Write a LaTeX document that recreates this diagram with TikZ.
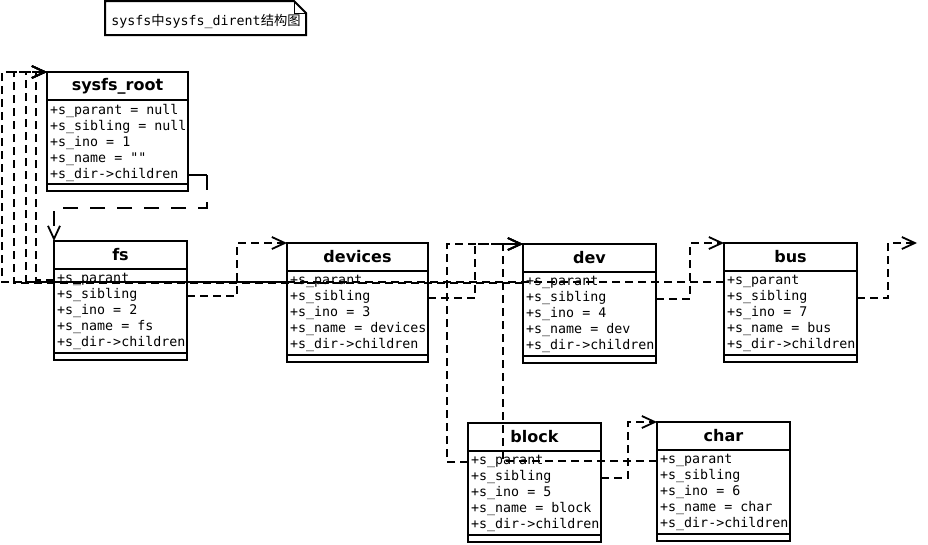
\documentclass[tikz,border=0pt]{standalone}
\usepackage{fontspec}
\setmainfont{DejaVu Sans}
\setmonofont{DejaVu Sans Mono}
\newfontfamily\cjk{Noto Sans CJK SC}
\usepackage{tikz}
\usetikzlibrary{positioning}
\usetikzlibrary{calc}
\usetikzlibrary{arrows.meta}

\newcommand{\headfont}{\fontsize{16}{19}\selectfont\bfseries}
\newcommand{\attrfont}{\fontsize{13.3}{16}\selectfont\ttfamily}

\tikzset{
    classhead/.style={draw, line width=2pt, fill=white, inner sep=0pt, outer sep=0pt,
        minimum height=28, font=\headfont, anchor=north west},
    classbody/.style={draw, line width=2pt, fill=white, inner sep=0pt, outer sep=0pt,
        minimum height=84},
    classfoot/.style={draw, line width=2pt, fill=white, inner sep=0pt, outer sep=0pt,
        minimum height=7},
    attrs/.style={anchor=north west, align=left, inner xsep=3pt, inner ysep=0pt,
        font=\attrfont, execute at begin node=\strut},
    link/.style={line width=1.8pt, dash pattern=on 8pt off 5pt},
    longlink/.style={line width=1.8pt, dash pattern=on 15pt off 12pt},
    openhead/.style={-{Straight Barb[length=13pt,width=12pt]}}
}

% name, x, y (top left), width, title, attributes
\newcommand{\umlclass}[6]{%
    \node[classhead, minimum width=#4] (#1) at (#2,#3) {#5};
    \node[classbody, minimum width=#4, below=0pt of #1] (#1-body) {};
    \node[classfoot, minimum width=#4, below=0pt of #1-body] (#1-foot) {};
    \node[attrs] (#1-attrs) at ($(#1-body.north west)+(0,3.8)$) {#6};
    \coordinate (#1-par) at ($(#1-body.north west)+(0,11)$);
    \coordinate (#1-sib) at ($(#1-body.north east)+(0,27)$);
    \coordinate (#1-chi) at ($(#1-body.north east)+(0,75)$);
}

\begin{document}
\begin{tikzpicture}[x=1pt, y=-1pt]
    \useasboundingbox (0,0) rectangle (928,544);

    % note
    \node[font=\attrfont, inner sep=0pt] (title) at (206,21)
        {sysfs{\cjk 中}sysfs\_dirent{\cjk 结构图}};
    \draw[line width=2pt] (105,1) -- (294,1) -- (306,13) -- (306,35) -- (105,35) -- cycle;
    \draw[line width=0.8pt] (294,1) -- (294,13) -- (306,13);

    \umlclass{root}{47}{72}{141}{sysfs\_root}
        {+s\_parant = null\\+s\_sibling = null\\+s\_ino = 1\\+s\_name = ""\\+s\_dir->children}
    \umlclass{fs}{54}{241}{133}{fs}
        {+s\_parant\\+s\_sibling\\+s\_ino = 2\\+s\_name = fs\\+s\_dir->children}
    \umlclass{devices}{287}{243}{141}{devices}
        {+s\_parant\\+s\_sibling\\+s\_ino = 3\\+s\_name = devices\\+s\_dir->children}
    \umlclass{dev}{523}{244}{133}{dev}
        {+s\_parant\\+s\_sibling\\+s\_ino = 4\\+s\_name = dev\\+s\_dir->children}
    \umlclass{bus}{724}{243}{133}{bus}
        {+s\_parant\\+s\_sibling\\+s\_ino = 7\\+s\_name = bus\\+s\_dir->children}
    \umlclass{block}{468}{423}{133}{block}
        {+s\_parant\\+s\_sibling\\+s\_ino = 5\\+s\_name = block\\+s\_dir->children}
    \umlclass{char}{657}{422}{133}{char}
        {+s\_parant\\+s\_sibling\\+s\_ino = 6\\+s\_name = char\\+s\_dir->children}

    \coordinate (bus-next) at ([xshift=60pt]bus.north east);

    % children
    \draw[line width=1.8pt] (root-chi) -- ++(19,0) coordinate (root-out);
    \draw[longlink, openhead] (root-out) -- ++(0,33) -| (fs.north west);

    % parents
    \draw[link, openhead] (fs-par) -| ([xshift=-11pt]root.north west) -- (root.north west);
    \draw[link, openhead] (devices-par) -| ([xshift=-21pt]root.north west) -- (root.north west);
    \draw[link, openhead] (dev-par) -| ([xshift=-33pt]root.north west) -- (root.north west);
    \draw[link, openhead] (bus-par) -| ([xshift=-45pt]root.north west) -- (root.north west);
    \draw[link, openhead] (block-par) -| ([xshift=-76pt]dev.north west) -- (dev.north west);
    \draw[link, openhead] (char-par) -| ([xshift=-20pt]dev.north west) -- (dev.north west);

    % siblings
    \draw[link, openhead] (fs-sib) -| ([xshift=-50pt]devices.north west) -- (devices.north west);
    \draw[link, openhead] (devices-sib) -| ([xshift=-48pt]dev.north west) -- (dev.north west);
    \draw[link, openhead] (dev-sib) -| ([xshift=-34pt]bus.north west) -- (bus.north west);
    \draw[link, openhead] (bus-sib) -| ([xshift=-29pt]bus-next) -- (bus-next);
    \draw[link, openhead] (block-sib) -| ([xshift=-29pt]char.north west) -- (char.north west);
\end{tikzpicture}
\end{document}
